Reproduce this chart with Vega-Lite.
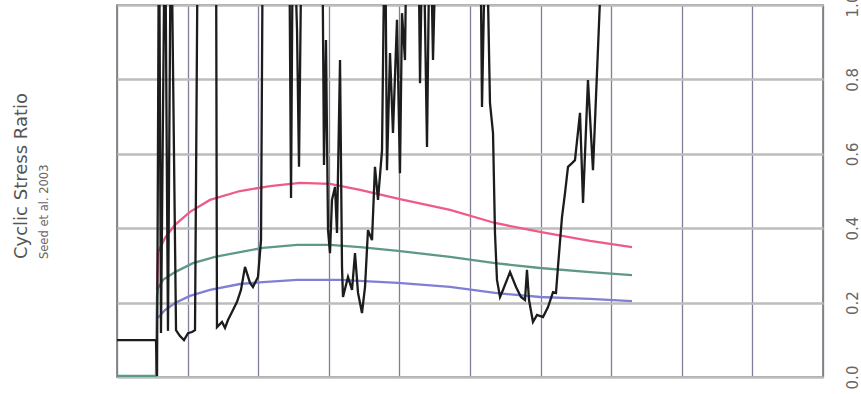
{
  "$schema": "https://vega.github.io/schema/vega-lite/v6.json",
  "width": 706,
  "height": 372,
  "autosize": {"type": "none"},
  "padding": {"left": 117, "top": 5, "right": 38, "bottom": 17},
  "background": "white",
  "title": {
    "text": "Cyclic Stress Ratio",
    "subtitle": "Seed et al. 2003",
    "orient": "left",
    "anchor": "start",
    "frame": "group",
    "dx": 118,
    "offset": 67,
    "font": "DejaVu Sans",
    "fontSize": 18,
    "fontWeight": "normal",
    "color": "#555555",
    "subtitleFont": "DejaVu Sans",
    "subtitleFontSize": 11.5,
    "subtitleColor": "#666666",
    "subtitlePadding": 8
  },
  "config": {"view": {"stroke": "#6f6f6f", "strokeWidth": 1.5}},
  "data": {
    "values": [
      {"s": "CSR high", "i": 0, "x": 5.67, "y": 0.234},
      {"s": "CSR high", "i": 1, "x": 5.81, "y": 0.336},
      {"s": "CSR high", "i": 2, "x": 6.80, "y": 0.374},
      {"s": "CSR high", "i": 3, "x": 8.22, "y": 0.409},
      {"s": "CSR high", "i": 4, "x": 10.34, "y": 0.444},
      {"s": "CSR high", "i": 5, "x": 13.17, "y": 0.476},
      {"s": "CSR high", "i": 6, "x": 17.42, "y": 0.500},
      {"s": "CSR high", "i": 7, "x": 21.67, "y": 0.513},
      {"s": "CSR high", "i": 8, "x": 25.92, "y": 0.522},
      {"s": "CSR high", "i": 9, "x": 30.17, "y": 0.519},
      {"s": "CSR high", "i": 10, "x": 34.42, "y": 0.503},
      {"s": "CSR high", "i": 11, "x": 40.08, "y": 0.478},
      {"s": "CSR high", "i": 12, "x": 47.17, "y": 0.449},
      {"s": "CSR high", "i": 13, "x": 53.54, "y": 0.414},
      {"s": "CSR high", "i": 14, "x": 59.92, "y": 0.390},
      {"s": "CSR high", "i": 15, "x": 67.00, "y": 0.366},
      {"s": "CSR high", "i": 16, "x": 72.95, "y": 0.349},

      {"s": "CSR mid", "i": 0, "x": 0, "y": 0.003},
      {"s": "CSR mid", "i": 1, "x": 5.52, "y": 0.003},
      {"s": "CSR mid", "i": 2, "x": 5.67, "y": 0.220},
      {"s": "CSR mid", "i": 3, "x": 5.81, "y": 0.239},
      {"s": "CSR mid", "i": 4, "x": 6.52, "y": 0.261},
      {"s": "CSR mid", "i": 5, "x": 8.22, "y": 0.282},
      {"s": "CSR mid", "i": 6, "x": 10.76, "y": 0.306},
      {"s": "CSR mid", "i": 7, "x": 13.88, "y": 0.323},
      {"s": "CSR mid", "i": 8, "x": 17.42, "y": 0.336},
      {"s": "CSR mid", "i": 9, "x": 20.68, "y": 0.347},
      {"s": "CSR mid", "i": 10, "x": 25.50, "y": 0.355},
      {"s": "CSR mid", "i": 11, "x": 30.17, "y": 0.355},
      {"s": "CSR mid", "i": 12, "x": 34.42, "y": 0.349},
      {"s": "CSR mid", "i": 13, "x": 39.80, "y": 0.339},
      {"s": "CSR mid", "i": 14, "x": 47.17, "y": 0.323},
      {"s": "CSR mid", "i": 15, "x": 53.54, "y": 0.306},
      {"s": "CSR mid", "i": 16, "x": 59.92, "y": 0.293},
      {"s": "CSR mid", "i": 17, "x": 67.00, "y": 0.282},
      {"s": "CSR mid", "i": 18, "x": 72.95, "y": 0.274},

      {"s": "CSR low", "i": 0, "x": 5.81, "y": 0.159},
      {"s": "CSR low", "i": 1, "x": 6.80, "y": 0.180},
      {"s": "CSR low", "i": 2, "x": 8.22, "y": 0.199},
      {"s": "CSR low", "i": 3, "x": 10.34, "y": 0.218},
      {"s": "CSR low", "i": 4, "x": 13.17, "y": 0.234},
      {"s": "CSR low", "i": 5, "x": 17.42, "y": 0.250},
      {"s": "CSR low", "i": 6, "x": 20.68, "y": 0.255},
      {"s": "CSR low", "i": 7, "x": 25.50, "y": 0.261},
      {"s": "CSR low", "i": 8, "x": 31.59, "y": 0.261},
      {"s": "CSR low", "i": 9, "x": 39.80, "y": 0.253},
      {"s": "CSR low", "i": 10, "x": 47.17, "y": 0.242},
      {"s": "CSR low", "i": 11, "x": 53.54, "y": 0.226},
      {"s": "CSR low", "i": 12, "x": 59.92, "y": 0.215},
      {"s": "CSR low", "i": 13, "x": 67.00, "y": 0.210},
      {"s": "CSR low", "i": 14, "x": 72.95, "y": 0.204},

      {"s": "CRR", "i": 0, "x": 0, "y": 0.099},
      {"s": "CRR", "i": 1, "x": 5.52, "y": 0.099},
      {"s": "CRR", "i": 2, "x": 5.67, "y": 0.003},
      {"s": "CRR", "i": 3, "x": 5.95, "y": 1.3},
      {"s": "CRR", "i": 4, "x": 6.23, "y": 0.118},
      {"s": "CRR", "i": 5, "x": 6.80, "y": 1.3},
      {"s": "CRR", "i": 6, "x": 7.22, "y": 0.124},
      {"s": "CRR", "i": 7, "x": 7.65, "y": 1.3},
      {"s": "CRR", "i": 8, "x": 8.36, "y": 0.126},
      {"s": "CRR", "i": 9, "x": 8.92, "y": 0.110},
      {"s": "CRR", "i": 10, "x": 9.49, "y": 0.099},
      {"s": "CRR", "i": 11, "x": 10.06, "y": 0.118},
      {"s": "CRR", "i": 12, "x": 10.62, "y": 0.121},
      {"s": "CRR", "i": 13, "x": 11.05, "y": 0.126},
      {"s": "CRR", "i": 14, "x": 11.47, "y": 1.3},
      {"s": "CRR", "i": 15, "x": 14.02, "y": 1.3},
      {"s": "CRR", "i": 16, "x": 14.16, "y": 0.134},
      {"s": "CRR", "i": 17, "x": 14.87, "y": 0.148},
      {"s": "CRR", "i": 18, "x": 15.30, "y": 0.132},
      {"s": "CRR", "i": 19, "x": 15.72, "y": 0.153},
      {"s": "CRR", "i": 20, "x": 16.43, "y": 0.180},
      {"s": "CRR", "i": 21, "x": 17.00, "y": 0.202},
      {"s": "CRR", "i": 22, "x": 17.56, "y": 0.234},
      {"s": "CRR", "i": 23, "x": 18.13, "y": 0.296},
      {"s": "CRR", "i": 24, "x": 18.84, "y": 0.253},
      {"s": "CRR", "i": 25, "x": 19.26, "y": 0.242},
      {"s": "CRR", "i": 26, "x": 19.97, "y": 0.269},
      {"s": "CRR", "i": 27, "x": 20.40, "y": 0.368},
      {"s": "CRR", "i": 28, "x": 20.68, "y": 1.3},
      {"s": "CRR", "i": 29, "x": 24.36, "y": 1.3},
      {"s": "CRR", "i": 30, "x": 24.65, "y": 0.481},
      {"s": "CRR", "i": 31, "x": 24.93, "y": 1.3},
      {"s": "CRR", "i": 32, "x": 25.50, "y": 0.933},
      {"s": "CRR", "i": 33, "x": 25.78, "y": 0.565},
      {"s": "CRR", "i": 34, "x": 26.20, "y": 1.3},
      {"s": "CRR", "i": 35, "x": 29.04, "y": 1.3},
      {"s": "CRR", "i": 36, "x": 29.32, "y": 0.570},
      {"s": "CRR", "i": 37, "x": 29.60, "y": 0.906},
      {"s": "CRR", "i": 38, "x": 29.89, "y": 0.395},
      {"s": "CRR", "i": 39, "x": 30.17, "y": 0.333},
      {"s": "CRR", "i": 40, "x": 30.45, "y": 0.476},
      {"s": "CRR", "i": 41, "x": 30.88, "y": 0.511},
      {"s": "CRR", "i": 42, "x": 31.16, "y": 0.387},
      {"s": "CRR", "i": 43, "x": 31.59, "y": 0.852},
      {"s": "CRR", "i": 44, "x": 31.87, "y": 0.296},
      {"s": "CRR", "i": 45, "x": 32.01, "y": 0.215},
      {"s": "CRR", "i": 46, "x": 32.72, "y": 0.269},
      {"s": "CRR", "i": 47, "x": 33.29, "y": 0.234},
      {"s": "CRR", "i": 48, "x": 33.71, "y": 0.333},
      {"s": "CRR", "i": 49, "x": 34.14, "y": 0.226},
      {"s": "CRR", "i": 50, "x": 34.70, "y": 0.172},
      {"s": "CRR", "i": 51, "x": 35.13, "y": 0.242},
      {"s": "CRR", "i": 52, "x": 35.55, "y": 0.395},
      {"s": "CRR", "i": 53, "x": 36.12, "y": 0.368},
      {"s": "CRR", "i": 54, "x": 36.54, "y": 0.565},
      {"s": "CRR", "i": 55, "x": 36.97, "y": 0.476},
      {"s": "CRR", "i": 56, "x": 37.54, "y": 0.610},
      {"s": "CRR", "i": 57, "x": 37.96, "y": 1.3},
      {"s": "CRR", "i": 58, "x": 38.24, "y": 0.556},
      {"s": "CRR", "i": 59, "x": 38.67, "y": 0.871},
      {"s": "CRR", "i": 60, "x": 39.09, "y": 0.656},
      {"s": "CRR", "i": 61, "x": 39.66, "y": 0.960},
      {"s": "CRR", "i": 62, "x": 40.08, "y": 0.548},
      {"s": "CRR", "i": 63, "x": 40.37, "y": 0.978},
      {"s": "CRR", "i": 64, "x": 40.79, "y": 0.852},
      {"s": "CRR", "i": 65, "x": 41.08, "y": 1.3},
      {"s": "CRR", "i": 66, "x": 42.63, "y": 1.3},
      {"s": "CRR", "i": 67, "x": 42.92, "y": 0.790},
      {"s": "CRR", "i": 68, "x": 43.34, "y": 1.3},
      {"s": "CRR", "i": 69, "x": 43.91, "y": 0.618},
      {"s": "CRR", "i": 70, "x": 44.33, "y": 1.3},
      {"s": "CRR", "i": 71, "x": 44.76, "y": 0.852},
      {"s": "CRR", "i": 72, "x": 45.33, "y": 1.3},
      {"s": "CRR", "i": 73, "x": 51.42, "y": 1.3},
      {"s": "CRR", "i": 74, "x": 51.70, "y": 0.726},
      {"s": "CRR", "i": 75, "x": 52.27, "y": 1.3},
      {"s": "CRR", "i": 76, "x": 52.83, "y": 0.737},
      {"s": "CRR", "i": 77, "x": 53.26, "y": 0.656},
      {"s": "CRR", "i": 78, "x": 53.54, "y": 0.387},
      {"s": "CRR", "i": 79, "x": 53.82, "y": 0.261},
      {"s": "CRR", "i": 80, "x": 54.25, "y": 0.215},
      {"s": "CRR", "i": 81, "x": 54.67, "y": 0.234},
      {"s": "CRR", "i": 82, "x": 55.67, "y": 0.282},
      {"s": "CRR", "i": 83, "x": 56.52, "y": 0.242},
      {"s": "CRR", "i": 84, "x": 57.22, "y": 0.215},
      {"s": "CRR", "i": 85, "x": 57.79, "y": 0.207},
      {"s": "CRR", "i": 86, "x": 58.07, "y": 0.288},
      {"s": "CRR", "i": 87, "x": 58.36, "y": 0.207},
      {"s": "CRR", "i": 88, "x": 58.92, "y": 0.148},
      {"s": "CRR", "i": 89, "x": 59.49, "y": 0.167},
      {"s": "CRR", "i": 90, "x": 60.34, "y": 0.161},
      {"s": "CRR", "i": 91, "x": 61.05, "y": 0.188},
      {"s": "CRR", "i": 92, "x": 61.76, "y": 0.228},
      {"s": "CRR", "i": 93, "x": 62.18, "y": 0.226},
      {"s": "CRR", "i": 94, "x": 62.46, "y": 0.296},
      {"s": "CRR", "i": 95, "x": 63.03, "y": 0.430},
      {"s": "CRR", "i": 96, "x": 63.46, "y": 0.495},
      {"s": "CRR", "i": 97, "x": 63.88, "y": 0.565},
      {"s": "CRR", "i": 98, "x": 64.45, "y": 0.575},
      {"s": "CRR", "i": 99, "x": 64.87, "y": 0.583},
      {"s": "CRR", "i": 100, "x": 65.58, "y": 0.710},
      {"s": "CRR", "i": 101, "x": 66.01, "y": 0.468},
      {"s": "CRR", "i": 102, "x": 66.71, "y": 0.798},
      {"s": "CRR", "i": 103, "x": 67.42, "y": 0.556},
      {"s": "CRR", "i": 104, "x": 68.41, "y": 1.013},
      {"s": "CRR", "i": 105, "x": 68.84, "y": 1.3}
    ]
  },
  "mark": {"type": "line", "strokeWidth": 2.3, "clip": true},
  "encoding": {
    "x": {
      "field": "x",
      "type": "quantitative",
      "scale": {"domain": [0, 100], "nice": false, "zero": false},
      "axis": {
        "values": [0, 10, 20, 30, 40, 50, 60, 70, 80, 90, 100],
        "grid": true,
        "gridColor": "#7f7f99",
        "gridWidth": 1.3,
        "gridOpacity": 1,
        "labels": false,
        "ticks": false,
        "domain": false,
        "title": null
      }
    },
    "y": {
      "field": "y",
      "type": "quantitative",
      "scale": {"domain": [0, 1], "nice": false},
      "axis": {
        "orient": "right",
        "values": [0, 0.2, 0.4, 0.6, 0.8, 1.0],
        "format": ".1f",
        "grid": true,
        "gridColor": "#bdbdbd",
        "gridWidth": 2.5,
        "gridOpacity": 1,
        "ticks": false,
        "domain": false,
        "labelAngle": 270,
        "labelAlign": "center",
        "labelBaseline": "top",
        "labelPadding": 22,
        "labelFont": "DejaVu Sans",
        "labelFontSize": 15,
        "labelColor": "#666666",
        "labelOverlap": false,
        "labelFlush": false,
        "title": null
      }
    },
    "color": {
      "field": "s",
      "type": "nominal",
      "scale": {
        "domain": ["CSR high", "CSR mid", "CSR low", "CRR"],
        "range": ["#ee5b86", "#5e988a", "#7f7fd6", "#1c1c1c"]
      },
      "legend": null
    },
    "order": {"field": "i", "type": "quantitative"}
  }
}
